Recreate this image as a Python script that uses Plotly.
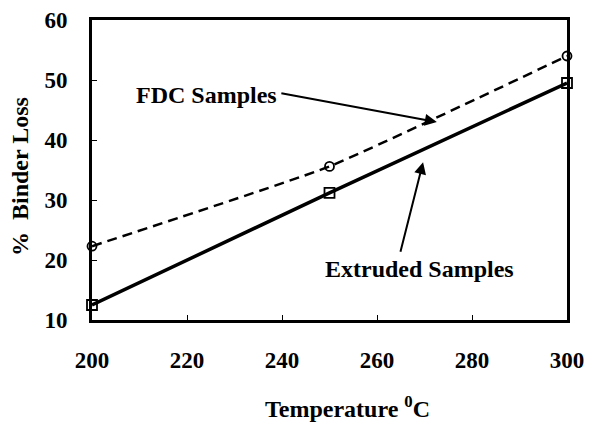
import plotly.graph_objects as go

temps = [200, 250, 300]
fdc_loss = [22.3, 35.6, 54.0]
extruded_loss = [12.5, 31.2, 49.5]

x_ticks = [200, 220, 240, 260, 280, 300]
y_ticks = [10, 20, 30, 40, 50, 60]

x_title = "Temperature <sup>0</sup>C"
y_title = "%  Binder Loss"

FONT = "Liberation Serif"

fig = go.Figure()
fig.add_trace(go.Scatter(
    x=temps, y=fdc_loss, mode="lines+markers", name="FDC Samples",
    line=dict(color="black", width=2.5, dash="10px,6px", shape="spline", smoothing=0.4),
    marker=dict(symbol="circle-open", size=9, color="black", line=dict(width=1.8)),
    cliponaxis=False,
))
fig.add_trace(go.Scatter(
    x=temps, y=extruded_loss, mode="lines+markers", name="Extruded Samples",
    line=dict(color="black", width=3.5),
    marker=dict(symbol="square-open", size=10, color="black", line=dict(width=1.8)),
    cliponaxis=False,
))

L, R, T, B, W, H = 92, 37, 20, 113, 604, 433
pw, ph = W - L - R, H - T - B


def px_to_paper(px, py):
    return (px - L) / pw, 1 - (py - T) / ph


fx, fy = px_to_paper(206, 95)
ex, ey = px_to_paper(419, 269)
tx, ty = px_to_paper(347, 407)
yx, yy = px_to_paper(20, 177)

bold = lambda s: dict(family=FONT, size=s, color="black", weight="bold")

ann = [
    dict(x=272.6, y=43.0, xref="x", yref="y", ax=-157, ay=-29,
         text="", showarrow=True, arrowhead=2, arrowsize=1.2, arrowwidth=2, arrowcolor="black"),
    dict(x=269.7, y=36.3, xref="x", yref="y", ax=-23, ay=91,
         text="", showarrow=True, arrowhead=2, arrowsize=1.2, arrowwidth=2, arrowcolor="black"),
    dict(x=fx, y=fy, xref="paper", yref="paper", text="FDC Samples", showarrow=False,
         xanchor="center", yanchor="middle", font=bold(24)),
    dict(x=ex, y=ey, xref="paper", yref="paper", text="Extruded Samples", showarrow=False,
         xanchor="center", yanchor="middle", font=bold(24)),
    dict(x=tx, y=ty, xref="paper", yref="paper", text=x_title, showarrow=False,
         xanchor="center", yanchor="middle", font=bold(24)),
    dict(x=yx, y=yy, xref="paper", yref="paper", text=y_title, showarrow=False,
         xanchor="center", yanchor="middle", textangle=-90, font=bold(24)),
]
fig.update_layout(annotations=ann)

fig.update_layout(
    template="none",
    width=W, height=H,
    margin=dict(l=L, r=R, t=T, b=B, pad=0),
    paper_bgcolor="white", plot_bgcolor="white",
    showlegend=False,
    font=dict(family=FONT, color="black"),
    xaxis=dict(
        range=[200, 300], tickvals=x_ticks, ticktext=[str(v) for v in x_ticks],
        ticks="inside", ticklen=5, tickwidth=1, tickcolor="black",
        showline=True, linewidth=3, linecolor="black", mirror=True,
        showgrid=False, zeroline=False, automargin=False,
        tickfont=bold(23), ticklabelstandoff=17,
    ),
    yaxis=dict(
        range=[10, 60], tickvals=y_ticks, ticktext=[str(v) for v in y_ticks],
        ticks="inside", ticklen=5, tickwidth=1, tickcolor="black",
        showline=True, linewidth=3, linecolor="black", mirror=True,
        showgrid=False, zeroline=False, automargin=False,
        tickfont=bold(23), ticklabelstandoff=17,
    ),
)

fig.write_html("out.html", config={"displayModeBar": False},
               post_script="document.body.style.margin='0';")
